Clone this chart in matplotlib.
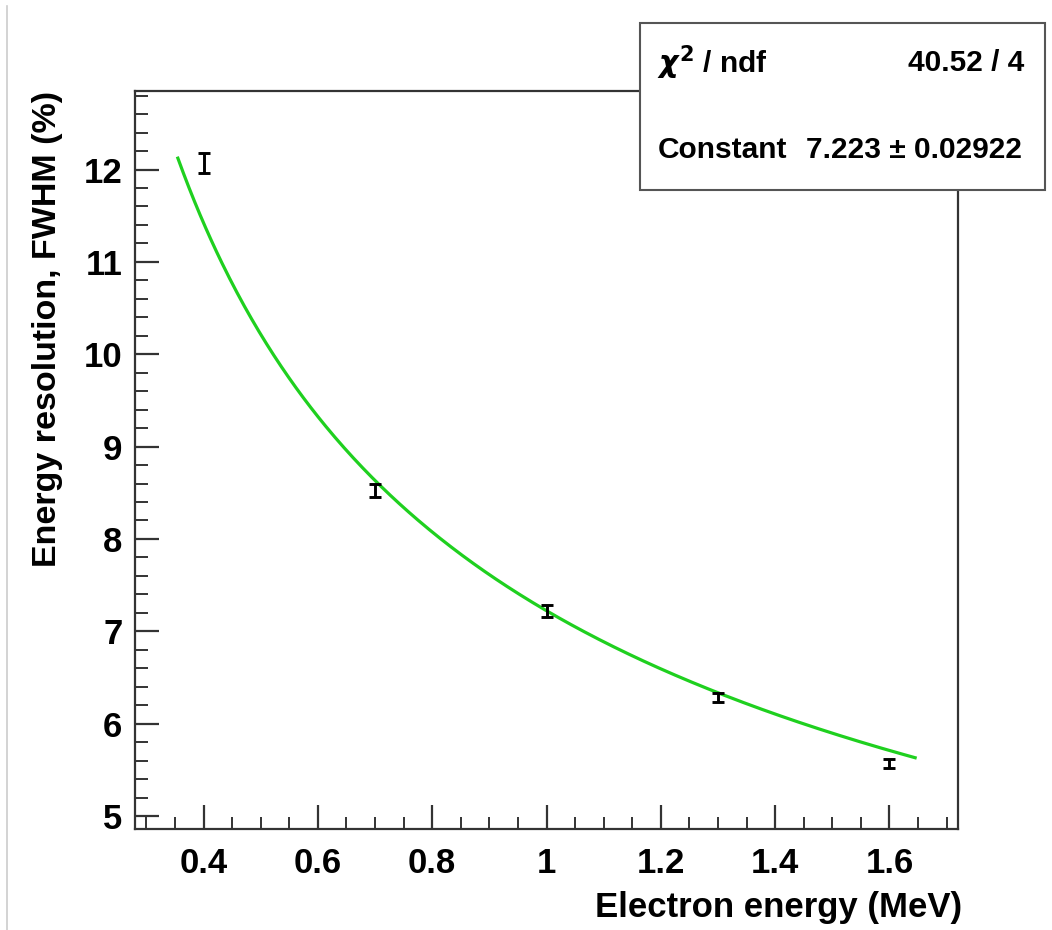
import numpy as np
import matplotlib
matplotlib.use('Agg')
import matplotlib.pyplot as plt
from matplotlib.ticker import MultipleLocator, FixedLocator, FixedFormatter
from matplotlib.patches import Rectangle
from matplotlib.lines import Line2D

# ---- data ----
energy = [0.4, 0.7, 1.0, 1.3, 1.6]
resolution = [12.07, 8.52, 7.22, 6.28, 5.57]
resolution_err = [0.11, 0.07, 0.06, 0.05, 0.05]
fit_constant = 7.223
fit_constant_err = 0.02922
chi2 = 40.52
ndf = 4
fit_range = [0.355, 1.645]

x_ticks = [0.4, 0.6, 0.8, 1.0, 1.2, 1.4, 1.6]
x_tick_labels = ['0.4', '0.6', '0.8', '1', '1.2', '1.4', '1.6']
y_ticks = [5, 6, 7, 8, 9, 10, 11, 12]
y_tick_labels = ['5', '6', '7', '8', '9', '10', '11', '12']

plt.rcParams['font.family'] = ['Liberation Sans', 'DejaVu Sans']
plt.rcParams['font.weight'] = 'bold'

W, H = 1052, 930
fig = plt.figure(figsize=(W / 100, H / 100), dpi=100)
ax = fig.add_axes([135 / W, 1 - 829 / H, (958 - 135) / W, (829 - 91) / H])

# fit curve
xf = np.linspace(fit_range[0], fit_range[1], 400)
ax.plot(xf, fit_constant / np.sqrt(xf), color='#1fd01f', lw=2.3, zorder=2)

# data
ax.errorbar(energy, resolution, yerr=resolution_err, fmt='none', ecolor='black',
            elinewidth=2.1, capsize=4, capthick=2.1, zorder=3)

ax.set_xlim(0.28, 1.72)
ax.set_ylim(4.86, 12.85)

ax.xaxis.set_major_locator(FixedLocator(x_ticks))
ax.xaxis.set_major_formatter(FixedFormatter(x_tick_labels))
ax.xaxis.set_minor_locator(MultipleLocator(0.05))
ax.yaxis.set_major_locator(FixedLocator(y_ticks))
ax.yaxis.set_major_formatter(FixedFormatter(y_tick_labels))
ax.yaxis.set_minor_locator(MultipleLocator(0.2))

ax.tick_params(which='both', direction='in', top=False, right=False, color='#333333')
ax.tick_params(which='major', length=17, width=1.6, labelsize=25)
ax.tick_params(which='minor', length=9, width=1.4)
ax.tick_params(axis='x', which='major', pad=13)
ax.tick_params(axis='y', which='major', pad=9)
for lab in ax.get_xticklabels() + ax.get_yticklabels():
    lab.set_fontweight('bold')

for sp in ax.spines.values():
    sp.set_linewidth(1.6)
    sp.set_color('#333333')

ax.set_xlabel('Electron energy (MeV)', fontsize=25, fontweight='bold', loc='right')
ax.xaxis.set_label_coords(1.005, -0.084)
ax.set_ylabel('Energy resolution, FWHM (%)', fontsize=24.5, fontweight='bold', loc='top')
ax.yaxis.set_label_coords(-0.088, 1.0)

# stats box
box = Rectangle((640 / W, 1 - 190 / H), 405 / W, 167 / H, transform=fig.transFigure,
                facecolor='white', edgecolor='#555555', lw=1.5, zorder=10)
fig.patches.append(box)
fig.text(657 / W, 1 - 63 / H, r'$\chi^{2}$ / ndf', fontsize=21.5, fontweight='bold',
         ha='left', va='center', zorder=11)
fig.text(1024 / W, 1 - 63 / H, f'{chi2:.2f} / {ndf}', fontsize=21.5, fontweight='bold',
         ha='right', va='center', zorder=11)
fig.text(658 / W, 1 - 150 / H, 'Constant', fontsize=21.5, fontweight='bold',
         ha='left', va='center', zorder=11)
fig.text(1022 / W, 1 - 150 / H, f'{fit_constant:.3f} \u00b1 {fit_constant_err:.5f}',
         fontsize=21.5, fontweight='bold', ha='right', va='center', zorder=11)

# thin gray frame line at left edge
fig.add_artist(Line2D([7 / W, 7 / W], [0, 1 - 6 / H], transform=fig.transFigure,
                      color='#cccccc', lw=1.2))

fig.savefig('out.png', dpi=100)
